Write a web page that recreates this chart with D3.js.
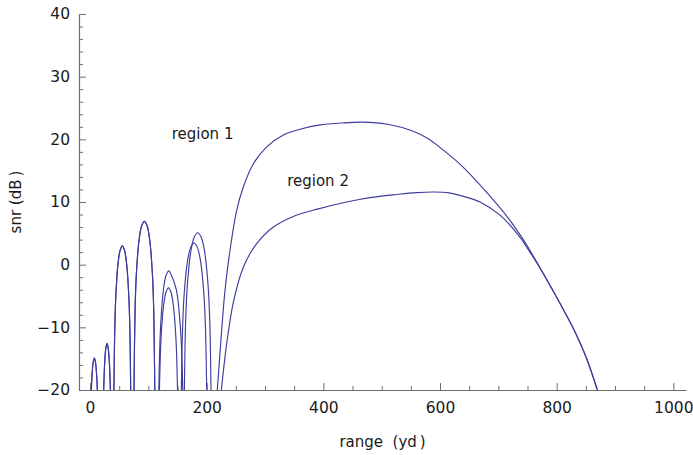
<!DOCTYPE html>
<html>
<head>
<meta charset="utf-8">
<script src="https://cdn.jsdelivr.net/npm/d3@7"></script>
<style>
  html, body { margin: 0; padding: 0; background: #fff; }
  svg { display: block; font-family: "DejaVu Sans", sans-serif; }
</style>
</head>
<body>
<svg id="chart" width="693" height="455"></svg>
<script>
// SNR versus range for two propagation regions (null = below the -20 dB floor)
const region1 = [
  [2.3, -20], [3.3, -17.9], [5.4, -15.6], [7.4, -14.9], [9.4, -15.6], [11.5, -17.9], [12.5, -20], [18, null],
  [23.4, -20], [25.15, -15.6], [27.3, -13.2], [29.15, -12.6], [31.0, -13.2], [33.15, -15.6], [34.9, -20], [38, null],
  [41, -20], [42.2, -11.2], [44.1, -5.3], [47.8, 0], [51.6, 2.3], [55.35, 3.0], [59.1, 2.3], [62.9, 0], [66.6, -5.3], [68.5, -11.2], [69.7, -20], [72, null],
  [75.4, -20], [77.2, -7.3], [79.5, -1.4], [84.0, 3.9], [88.6, 6.2], [93.2, 6.9], [97.8, 6.2], [102.4, 3.9], [106.9, -1.4], [109.2, -7.3], [111, -20], [114, null],
  [118, -20], [119.0, -15.2], [121.3, -9.3], [125.8, -4.0], [130.4, -1.7], [135, -1.0], [139.5, -1.7], [147.9, -4.0], [154.4, -9.3], [157.6, -15.2], [159, -20], [160.5, null],
  [161.8, -20], [163.9, -9.1], [166.9, -3.2], [172.8, 2.1], [178.7, 4.4], [184.6, 5.1], [190.5, 4.4], [196.4, 2.1], [202.3, -3.2], [205.3, -9.1], [207.4, -20], [213, null],
  [218.2, -20], [224, -12.6], [231.4, -4.1], [240, 2.3], [251.5, 8.7], [262.8, 12.4], [280, 16.1], [302.9, 18.8],
  [331.4, 20.7], [360, 21.6], [394.3, 22.3], [430, 22.6], [468, 22.75], [510, 22.4], [554, 21.3], [580, 20.1],
  [600, 18.7], [630, 16.4], [657, 13.9], [685, 11.0], [714, 7.8], [740, 4.4], [771, -0.4], [800, -5.2],
  [828.6, -10.2], [851, -14.9], [869.7, -20]
];

const region2 = [
  [2.3, -20], [3.3, -17.9], [5.4, -15.6], [7.4, -14.9], [9.4, -15.6], [11.5, -17.9], [12.5, -20], [18, null],
  [23.4, -20], [25.15, -15.6], [27.3, -13.2], [29.15, -12.6], [31.0, -13.2], [33.15, -15.6], [34.9, -20], [38, null],
  [41, -20], [42.2, -11.2], [44.1, -5.3], [47.8, 0], [51.6, 2.3], [55.35, 3.0], [59.1, 2.3], [62.9, 0], [66.6, -5.3], [68.5, -11.2], [69.7, -20], [72, null],
  [75.4, -20], [77.2, -7.3], [79.5, -1.4], [84.0, 3.9], [88.6, 6.2], [93.2, 6.9], [97.8, 6.2], [102.4, 3.9], [106.9, -1.4], [109.2, -7.3], [111, -20], [114, null],
  [119, -20], [119.5, -17.9], [121.6, -12.0], [125.9, -6.7], [130.2, -4.4], [134.5, -3.7], [138.8, -4.4], [143.1, -6.7], [147.4, -12.0], [149.5, -17.9], [150, -20], [153, null],
  [156.6, -20], [158.5, -10.75], [161.3, -4.85], [166.95, 0.45], [172.6, 2.76], [178.3, 3.45], [184, 2.76], [189.65, 0.45], [195.3, -4.85], [198.1, -10.75], [200, -20], [212, null],
  [225.1, -20], [234.3, -12.6], [245.7, -6.0], [262.8, -0.4], [285.7, 3.35], [314.3, 6.0], [348.5, 7.7], [391.4, 8.9],
  [440, 10.0], [480, 10.7], [525.7, 11.2], [560, 11.5], [590, 11.6], [615, 11.45], [640, 10.9], [668.6, 10.0],
  [702.9, 7.9], [737, 4.4], [754, 2.0], [771, -0.5], [800, -5.25], [828.6, -10.2], [851, -14.9], [869.7, -20]
];

const xMajorTicks = [0, 200, 400, 600, 800, 1000];
const xMinorTicks = [50, 100, 150, 250, 300, 350, 450, 500, 550, 650, 700, 750, 850, 900, 950];
const yMajorTicks = [-20, -10, 0, 10, 20, 30, 40];
const yMinorTicks = [-18, -16, -14, -12, -8, -6, -4, -2, 2, 4, 6, 8, 12, 14, 16, 18, 22, 24, 26, 28, 32, 34, 36, 38];

const seriesLabels = [
  { text: "region 1", range: 140, snr: 20 },
  { text: "region 2", range: 338, snr: 12.6 }
];

const svg = d3.select("#chart");
const plotLeft = 79, plotRight = 686, plotTop = 14, plotBottom = 390;

const x = d3.scaleLinear().domain([-18.9, 1021.7]).range([plotLeft, plotRight]);
const y = d3.scaleLinear().domain([-20, 40]).range([plotBottom, plotTop]);

const axisColor = "#6e6e6e";
const fmt = d => d < 0 ? "\u2212" + Math.abs(d) : String(d);

// minor ticks first, then the major axes with labels
svg.append("g")
  .attr("transform", `translate(0,${plotBottom})`)
  .call(d3.axisBottom(x).tickValues(xMinorTicks).tickSize(-4).tickFormat("").tickSizeOuter(0))
  .call(g => g.select(".domain").remove());
svg.append("g")
  .attr("transform", `translate(${plotLeft},0)`)
  .call(d3.axisLeft(y).tickValues(yMinorTicks).tickSize(-4).tickFormat("").tickSizeOuter(0))
  .call(g => g.select(".domain").remove());

svg.append("g")
  .attr("transform", `translate(0,${plotBottom})`)
  .call(d3.axisBottom(x).tickValues(xMajorTicks).tickSize(-7).tickPadding(12).tickFormat(fmt).tickSizeOuter(0));
svg.append("g")
  .attr("transform", `translate(${plotLeft},0)`)
  .call(d3.axisLeft(y).tickValues(yMajorTicks).tickSize(-7).tickPadding(9).tickFormat(fmt).tickSizeOuter(0));

svg.selectAll(".tick line").attr("stroke", axisColor).attr("stroke-width", 1);
svg.selectAll(".domain").attr("stroke", axisColor).attr("stroke-width", 1.2);
svg.selectAll(".tick text")
  .attr("font-family", "DejaVu Sans, sans-serif")
  .attr("font-size", 15.5)
  .attr("fill", "#1a1a1a");

// axis titles
svg.append("text")
  .attr("x", (plotLeft + plotRight) / 2).attr("y", 446.5)
  .attr("text-anchor", "middle")
  .attr("font-size", 15).attr("fill", "#1a1a1a")
  .text("range\u00a0\u00a0(yd\u2009)");
svg.append("text")
  .attr("transform", `translate(21,${(plotTop + plotBottom) / 2}) rotate(-90)`)
  .attr("text-anchor", "middle")
  .attr("font-size", 15).attr("fill", "#1a1a1a")
  .text("snr\u00a0(dB\u2009)");

// curves, clipped to the plotting area
svg.append("clipPath").attr("id", "plot-clip")
  .append("rect").attr("x", plotLeft).attr("y", plotTop - 2)
  .attr("width", plotRight - plotLeft).attr("height", plotBottom - plotTop + 2);

const line = d3.line()
  .defined(d => d[1] !== null)
  .x(d => x(d[0]))
  .y(d => y(d[1]))
  .curve(d3.curveCatmullRom.alpha(0.5));

const curves = svg.append("g").attr("clip-path", "url(#plot-clip)");
[region2, region1].forEach(series => {
  curves.append("path")
    .datum(series)
    .attr("fill", "none")
    .attr("stroke", "#3d3d9e")
    .attr("stroke-width", 1.15)
    .attr("d", line);
});

svg.selectAll(".series-label")
  .data(seriesLabels)
  .join("text")
  .attr("class", "series-label")
  .attr("x", d => x(d.range))
  .attr("y", d => y(d.snr))
  .attr("font-size", 15)
  .attr("fill", "#1a1a1a")
  .text(d => d.text);
</script>
</body>
</html>
